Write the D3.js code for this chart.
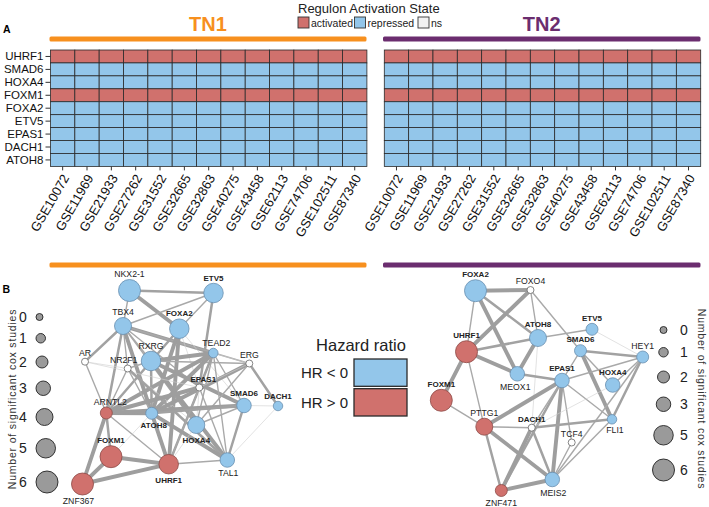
<!DOCTYPE html>
<html><head><meta charset="utf-8">
<script src="https://cdn.jsdelivr.net/npm/d3@7"></script>
<style>body{margin:0;background:#fff} svg{display:block;font-family:"Liberation Sans",Arial,sans-serif}</style>
</head><body><svg id="c" width="709" height="507"></svg>
<script>
// ---------------- DATA ----------------
const regulons = ["UHRF1","SMAD6","HOXA4","FOXM1","FOXA2","ETV5","EPAS1","DACH1","ATOH8"];
const datasets = ["GSE10072","GSE11969","GSE21933","GSE27262","GSE31552","GSE32665","GSE32863","GSE40275","GSE43458","GSE62113","GSE74706","GSE102511","GSE87340"];
// regulon state (same in every dataset)
const stateTN1 = ["activated","repressed","repressed","activated","repressed","repressed","repressed","repressed","repressed"];
const stateTN2 = ["activated","repressed","repressed","activated","repressed","repressed","repressed","repressed","repressed"];
const stateLevels = ["activated","repressed","ns"];
const hrLevels = ["HR < 0","HR > 0"];
const coxLegendTN1 = [0,1,2,3,4,5,6];
const coxLegendTN2 = [0,1,2,3,5,6];

// network nodes: [name, hazard ratio sign, number of significant cox studies]
const tn1Nodes = [
  ["NKX2-1","neg",6],["ETV5","neg",5],["TBX4","neg",4],["FOXA2","neg",5],["TEAD2","neg",1],
  ["RXRG","neg",5],["AR","ns",0],["NR2F1","ns",0],["ERG","ns",0],["EPAS1","ns",0],
  ["ARNTL2","pos",2],["ATOH8","neg",2],["SMAD6","neg",3],["DACH1","neg",1],["HOXA4","neg",4],
  ["FOXM1","pos",6],["UHRF1","pos",5],["TAL1","neg",3],["ZNF367","pos",6]
];
// layout coordinates (network layout space 0-240)
const tn1Layout = {
  "NKX2-1":[69.5,20.5],"ETV5":[153.5,23],"TBX4":[63,56],"FOXA2":[119.3,58.7],"TEAD2":[153.3,83],
  "RXRG":[91,91],"AR":[25,91.7],"NR2F1":[67.7,98.5],"ERG":[189.3,93.5],"EPAS1":[139.3,117.5],
  "ARNTL2":[46.3,143],"ATOH8":[91.7,143.3],"SMAD6":[184,135.5],"DACH1":[218,136],"HOXA4":[136.3,155],
  "FOXM1":[51,186.7],"UHRF1":[108.7,194.2],"TAL1":[167.3,190],"ZNF367":[22.5,214]
};
// edges: [source, target, strength 1-4]
const tn1Edges = [
  ["NKX2-1","ETV5",3],["NKX2-1","TBX4",2],["NKX2-1","FOXA2",4],["ETV5","TBX4",2],["ETV5","FOXA2",2],
  ["ETV5","EPAS1",3],["TBX4","AR",3],["TBX4","NR2F1",2],["TBX4","RXRG",2],["TBX4","TEAD2",4],
  ["TBX4","ERG",2],["TBX4","ARNTL2",3],["TBX4","ATOH8",4],["TBX4","EPAS1",2],["TBX4","HOXA4",2],
  ["FOXA2","ATOH8",4],["FOXA2","UHRF1",4],["FOXA2","ARNTL2",3],["FOXA2","EPAS1",1],["FOXA2","SMAD6",1],
  ["RXRG","TEAD2",4],["RXRG","ATOH8",3],["RXRG","HOXA4",3],["RXRG","ERG",2],["RXRG","SMAD6",4],
  ["RXRG","NR2F1",2],["RXRG","TAL1",4],["TEAD2","ERG",1],["TEAD2","EPAS1",2],["TEAD2","ATOH8",4],
  ["TEAD2","ARNTL2",4],["TEAD2","SMAD6",2],["TEAD2","HOXA4",2],["TEAD2","TAL1",2],["TEAD2","UHRF1",3],
  ["AR","NR2F1",1],["AR","ARNTL2",2],["AR","EPAS1",1],["NR2F1","ATOH8",2],["NR2F1","HOXA4",1],
  ["NR2F1","ARNTL2",2],["NR2F1","TAL1",3],["ERG","ATOH8",4],["ERG","DACH1",3],["ERG","EPAS1",1],
  ["ERG","HOXA4",2],["EPAS1","ARNTL2",4],["EPAS1","UHRF1",2],["EPAS1","TAL1",2],["EPAS1","HOXA4",1],
  ["ARNTL2","ATOH8",4],["ARNTL2","SMAD6",4],["ARNTL2","FOXM1",3],["ARNTL2","ZNF367",4],["ARNTL2","UHRF1",2],
  ["ATOH8","SMAD6",3],["ATOH8","UHRF1",4],["ATOH8","TAL1",4],["ATOH8","FOXM1",1],["SMAD6","DACH1",1],
  ["SMAD6","HOXA4",2],["SMAD6","TAL1",3],["DACH1","TAL1",1],["HOXA4","UHRF1",1],["FOXM1","UHRF1",4],
  ["FOXM1","ZNF367",4],["UHRF1","ZNF367",4],["UHRF1","TAL1",2]
];

const tn2Nodes = [
  ["FOXA2","neg",6],["FOXO4","ns",0],["ATOH8","neg",4],["ETV5","neg",2],["SMAD6","neg",2],
  ["HEY1","neg",2],["UHRF1","pos",6],["MEOX1","neg",3],["EPAS1","neg",3],["HOXA4","neg",3],
  ["FOXM1","pos",6],["PTTG1","pos",4],["DACH1","ns",0],["FLI1","neg",1],["TCF4","ns",0],
  ["MEIS2","neg",3],["ZNF471","pos",2]
];
const tn2Layout = {
  "FOXA2":[55.5,20.7],"FOXO4":[110.5,20],"ATOH8":[118,68],"ETV5":[172,59.3],"SMAD6":[160.5,80.7],
  "HEY1":[222.7,87],"UHRF1":[46.5,81.7],"MEOX1":[97.3,103.8],"EPAS1":[142,110.5],"HOXA4":[192.7,115],
  "FOXM1":[21.3,130.3],"PTTG1":[64.3,156.7],"DACH1":[111.7,157.7],"FLI1":[192,149.3],"TCF4":[151.7,172.5],
  "MEIS2":[132.3,209.5],"ZNF471":[81.3,220.5]
};
const tn2Edges = [
  ["FOXA2","FOXO4",4],["FOXA2","UHRF1",2],["FOXA2","ATOH8",3],["FOXA2","MEOX1",4],["FOXO4","UHRF1",4],
  ["FOXO4","ATOH8",2],["FOXO4","SMAD6",2],["UHRF1","ATOH8",3],["UHRF1","MEOX1",4],["UHRF1","FOXM1",4],
  ["UHRF1","PTTG1",2],["ATOH8","ETV5",2],["ATOH8","MEOX1",4],["ATOH8","DACH1",1],["MEOX1","EPAS1",3],
  ["ETV5","HEY1",1],["SMAD6","HEY1",3],["SMAD6","EPAS1",2],["SMAD6","HOXA4",2],["SMAD6","FLI1",4],
  ["HEY1","EPAS1",2],["HEY1","FLI1",3],["HEY1","MEIS2",2],["HEY1","HOXA4",2],["EPAS1","PTTG1",4],
  ["EPAS1","MEIS2",4],["EPAS1","ZNF471",3],["EPAS1","FLI1",2],["EPAS1","TCF4",2],["EPAS1","DACH1",2],
  ["HOXA4","DACH1",1],["FOXM1","PTTG1",2],["PTTG1","DACH1",2],["PTTG1","ZNF471",3],["PTTG1","MEIS2",4],
  ["DACH1","FLI1",3],["DACH1","ZNF471",4],["DACH1","MEIS2",3],["TCF4","MEIS2",2],["FLI1","MEIS2",2],
  ["ZNF471","MEIS2",4]
];

// ---------------- STYLE ----------------
const RED = "#d0716d", BLUE = "#93c6ea", ORANGE = "#f7901e", PURPLE = "#6b2d6f";
const stateColor = d3.scaleOrdinal().domain(stateLevels).range([RED, BLUE, "#f2f2f2"]);
const nodeFill = d3.scaleOrdinal().domain(["neg","pos","ns"]).range([BLUE, RED, "#ffffff"]);
const nodeStroke = d3.scaleOrdinal().domain(["neg","pos","ns"]).range(["#6a8fb0","#8d4b48","#666"]);
const rScale = d3.scaleLinear().domain([0,6]).range([3.5,11]);
const edgeW = d3.scaleOrdinal().domain([1,2,3,4]).range([0.6,1.4,2.5,3.9]);
const edgeC = d3.scaleOrdinal().domain([1,2,3,4]).range(["#cfcfcf","#a9a9a9","#a2a2a2","#9e9e9e"]);
const FONT = '"Liberation Sans",Arial,sans-serif';

const svg = d3.select("#c");

// ---------------- PANEL A ----------------
svg.append("text").attr("x",3).attr("y",33).attr("font-size",10.5).attr("font-weight","bold").text("A");
svg.append("text").attr("x",2.5).attr("y",293).attr("font-size",10.5).attr("font-weight","bold").text("B");

function header(x0, x1, y, title, color, withTitle){
  svg.append("rect").attr("x",x0).attr("y",y).attr("width",x1-x0).attr("height",5).attr("rx",1.5).attr("fill",color);
  if(withTitle) svg.append("text").attr("x",(x0+x1)/2).attr("y",31).attr("text-anchor","middle")
    .attr("font-size",20).attr("font-weight","bold").attr("fill",color).text(title);
}
header(49.5,366.5,36.5,"TN1",ORANGE,true);
header(383,700.5,36.5,"TN2",PURPLE,true);
header(49.5,366.5,262.5,"TN1",ORANGE,false);
header(383,700.5,262.5,"TN2",PURPLE,false);

// legend top
svg.append("text").attr("x",298).attr("y",12.5).attr("font-size",13).attr("fill","#222").text("Regulon Activation State");
const legX = [298, 354.5, 418];
stateLevels.forEach((s,i)=>{
  svg.append("rect").attr("x",legX[i]).attr("y",17).attr("width",11).attr("height",11)
    .attr("fill",stateColor(s)).attr("stroke","#333").attr("stroke-width",0.9);
  svg.append("text").attr("x",legX[i]+13).attr("y",26.5).attr("font-size",10.5).attr("fill","#222").text(s);
});

function heatmap(x0, states, showY){
  const x = d3.scaleBand().domain(datasets).range([x0, x0+316.4]);
  const y = d3.scaleBand().domain(regulons).range([50, 166.4]);
  const g = svg.append("g");
  regulons.forEach((r,i)=>{
    datasets.forEach(d=>{
      g.append("rect").attr("x",x(d)).attr("y",y(r)).attr("width",x.bandwidth()).attr("height",y.bandwidth())
        .attr("fill",stateColor(states[i])).attr("stroke","#2a2a2a").attr("stroke-width",0.8);
    });
  });
  const ax = g.append("g").attr("transform","translate(0,166.4)")
    .call(d3.axisBottom(x).tickSize(4).tickSizeOuter(0));
  ax.attr("font-size",13).attr("font-family",FONT);
  ax.select(".domain").remove();
  ax.selectAll("line").attr("stroke","#333");
  ax.selectAll("text").attr("x",0).attr("y",0).attr("dy","0.35em")
    .attr("text-anchor","end").attr("transform","translate(3,9) rotate(-60)")
    .attr("font-size",13).attr("fill","#111");
  if(showY){
    const ay = g.append("g").attr("transform",`translate(${x0},0)`)
      .call(d3.axisLeft(y).tickSize(5).tickPadding(2).tickSizeOuter(0));
    ay.attr("font-size",11.5).attr("font-family",FONT);
    ay.select(".domain").remove();
    ay.selectAll("line").attr("stroke","#333");
    ay.selectAll("text").attr("font-size",11.5).attr("fill","#111");
  }
}
heatmap(50.5, stateTN1, true);
heatmap(384.3, stateTN2, false);

// ---------------- PANEL B : networks ----------------
const labelPos = {
  tn1:{ "ATOH8":["b",2],"HOXA4":["b",0],"UHRF1":["b",0],"TAL1":["b",1],"ZNF367":["b",-4],
        "TEAD2":["t",3],"NR2F1":["t",-4],"EPAS1":["t",4],"ARNTL2":["t",4] },
  tn2:{ "MEOX1":["b",-2],"FLI1":["b",3],"MEIS2":["b",1],"ZNF471":["b",0] }
};
function network(nodes, layout, edges, xr, key){
  const x = d3.scaleLinear().domain([0,240]).range(xr);
  const y = d3.scaleLinear().domain([0,240]).range([270,510]);
  const g = svg.append("g");
  const px = n=>x(layout[n][0]), py = n=>y(layout[n][1]);
  g.selectAll("line.e").data(edges).join("line")
    .attr("x1",d=>px(d[0])).attr("y1",d=>py(d[0])).attr("x2",d=>px(d[1])).attr("y2",d=>py(d[1]))
    .attr("stroke",d=>edgeC(d[2])).attr("stroke-width",d=>edgeW(d[2])).attr("stroke-linecap","round");
  g.selectAll("circle").data(nodes).join("circle")
    .attr("cx",d=>px(d[0])).attr("cy",d=>py(d[0])).attr("r",d=>rScale(d[2]))
    .attr("fill",d=>nodeFill(d[1])).attr("stroke",d=>nodeStroke(d[1])).attr("stroke-width",0.8);
  g.selectAll("text").data(nodes).join("text")
    .attr("x",d=>px(d[0]) + ((labelPos[key][d[0]]||["t",0])[1]))
    .attr("y",d=>{const p=(labelPos[key][d[0]]||["t",0])[0]; const r=rScale(d[2]);
       return p==="t" ? py(d[0])-r-2.5 : py(d[0])+r+9;})
    .attr("text-anchor","middle")
    .attr("font-size",d=>regulons.includes(d[0])?8:8.7)
    .attr("font-weight",d=>regulons.includes(d[0])?"bold":"normal")
    .attr("fill","#222").text(d=>d[0]);
}
network(tn1Nodes, tn1Layout, tn1Edges, [60,300], "tn1");
network(tn2Nodes, tn2Layout, tn2Edges, [420,660], "tn2");

// size legends
function sizeLegend(counts, y0, gap, cxFn, numX, anchor){
  let yy = y0, prev = null;
  counts.forEach(c=>{
    const r = rScale(c);
    if(prev!==null) yy += rScale(prev) + r + gap;
    svg.append("circle").attr("cx",cxFn(r)).attr("cy",yy).attr("r",r)
      .attr("fill","#9a9a9a").attr("stroke","#222").attr("stroke-width",0.9);
    svg.append("text").attr("x",numX).attr("y",yy).attr("dy","0.36em").attr("text-anchor",anchor)
      .attr("font-size",14).attr("fill","#222").text(c);
    prev = c;
  });
}
sizeLegend(coxLegendTN1, 317, 13, r=>36+r, 23, "middle");
sizeLegend(coxLegendTN2, 330, 14, r=>663.5, 680, "start");

svg.append("text").attr("transform","translate(16,399) rotate(-90)").attr("text-anchor","middle")
  .attr("font-size",10.5).attr("letter-spacing",0.8).attr("fill","#333").text("Number of significant cox studies");
svg.append("text").attr("transform","translate(698,399) rotate(90)").attr("text-anchor","middle")
  .attr("font-size",10.5).attr("letter-spacing",0.8).attr("fill","#333").text("Number of significant cox studies");

// hazard ratio legend
svg.append("text").attr("x",361).attr("y",351).attr("text-anchor","middle").attr("font-size",16.5).attr("fill","#222").text("Hazard ratio");
const hy = d3.scaleBand().domain(hrLevels).range([359,416]).paddingInner(0.08);
hrLevels.forEach((h,i)=>{
  svg.append("rect").attr("x",354).attr("y",hy(h)).attr("width",53).attr("height",hy.bandwidth())
    .attr("fill",i===0?BLUE:RED).attr("stroke","#2a2a2a").attr("stroke-width",1.3);
  svg.append("text").attr("x",348).attr("y",hy(h)+hy.bandwidth()/2).attr("dy","0.36em").attr("text-anchor","end")
    .attr("font-size",15).attr("fill","#222").attr("xml:space","preserve").text(h);
});
</script></body></html>
